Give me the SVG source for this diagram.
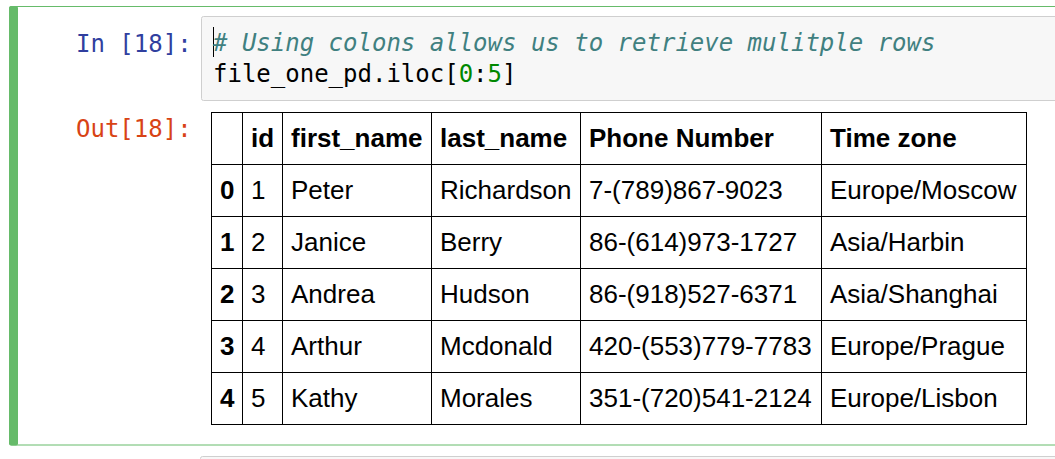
<svg xmlns="http://www.w3.org/2000/svg" width="1055" height="459" viewBox="0 0 1055 459">
<style>
.mono{font-family:"DejaVu Sans Mono","Liberation Mono",monospace;font-size:24px}
.cm{font-style:italic;fill:#408080}
.num{fill:#008800}
.td{font-family:"Liberation Sans",Arial,sans-serif;font-size:26px;fill:#000}
.th{font-weight:bold}
.grid{stroke:#000;stroke-width:1;fill:none}
</style>
<rect width="1055" height="459" fill="#fff"/>
<g id="cell">
<rect x="9.5" y="6.5" width="1060" height="438.5" rx="2" fill="none" stroke="#66bb6a" stroke-width="1"/>
<rect x="9" y="6" width="9" height="439.5" rx="2" fill="#66bb6a"/>
</g>
<g id="prompts" class="mono">
<text x="76" y="52" fill="#303f9f">In [18]:</text>
<text x="76" y="137" fill="#d84315">Out[18]:</text>
</g>
<g id="code">
<rect x="201.5" y="16.5" width="870" height="84" rx="2" fill="#f7f7f7" stroke="#cfcfcf"/>
<line x1="213.5" y1="27" x2="213.5" y2="57" stroke="#000" stroke-width="1"/>
<text class="mono cm" x="213" y="51"># Using colons allows us to retrieve mulitple rows</text>
<text class="mono" x="213" y="82" fill="#000">file_one_pd.iloc[<tspan class="num">0</tspan>:<tspan class="num">5</tspan>]</text>
</g>
<g id="table">
<g id="grid" class="grid">
<rect x="211.5" y="112.5" width="815" height="312"/>
<line x1="211" y1="164.5" x2="1027" y2="164.5"/>
<line x1="211" y1="216.5" x2="1027" y2="216.5"/>
<line x1="211" y1="268.5" x2="1027" y2="268.5"/>
<line x1="211" y1="320.5" x2="1027" y2="320.5"/>
<line x1="211" y1="372.5" x2="1027" y2="372.5"/>
<line x1="242.5" y1="112" x2="242.5" y2="425"/>
<line x1="282.5" y1="112" x2="282.5" y2="425"/>
<line x1="431.5" y1="112" x2="431.5" y2="425"/>
<line x1="580.5" y1="112" x2="580.5" y2="425"/>
<line x1="821.5" y1="112" x2="821.5" y2="425"/>
</g>
<g id="header" class="td th">
<text x="251" y="147">id</text>
<text x="291" y="147">first_name</text>
<text x="440" y="147">last_name</text>
<text x="589" y="147">Phone Number</text>
<text x="830" y="147">Time zone</text>
</g>
<g id="row0" class="td">
<text class="th" x="220" y="199">0</text>
<text x="251" y="199">1</text>
<text x="291" y="199">Peter</text>
<text x="440" y="199">Richardson</text>
<text x="589" y="199">7-(789)867-9023</text>
<text x="830" y="199">Europe/Moscow</text>
</g>
<g id="row1" class="td">
<text class="th" x="220" y="251">1</text>
<text x="251" y="251">2</text>
<text x="291" y="251">Janice</text>
<text x="440" y="251">Berry</text>
<text x="589" y="251">86-(614)973-1727</text>
<text x="830" y="251">Asia/Harbin</text>
</g>
<g id="row2" class="td">
<text class="th" x="220" y="303">2</text>
<text x="251" y="303">3</text>
<text x="291" y="303">Andrea</text>
<text x="440" y="303">Hudson</text>
<text x="589" y="303">86-(918)527-6371</text>
<text x="830" y="303">Asia/Shanghai</text>
</g>
<g id="row3" class="td">
<text class="th" x="220" y="355">3</text>
<text x="251" y="355">4</text>
<text x="291" y="355">Arthur</text>
<text x="440" y="355">Mcdonald</text>
<text x="589" y="355">420-(553)779-7783</text>
<text x="830" y="355">Europe/Prague</text>
</g>
<g id="row4" class="td">
<text class="th" x="220" y="407">4</text>
<text x="251" y="407">5</text>
<text x="291" y="407">Kathy</text>
<text x="440" y="407">Morales</text>
<text x="589" y="407">351-(720)541-2124</text>
<text x="830" y="407">Europe/Lisbon</text>
</g>
</g>
<g id="next-cell">
<rect x="200.5" y="456.5" width="880" height="20" rx="2" fill="#f7f7f7" stroke="#cfcfcf"/>
</g>
</svg>
